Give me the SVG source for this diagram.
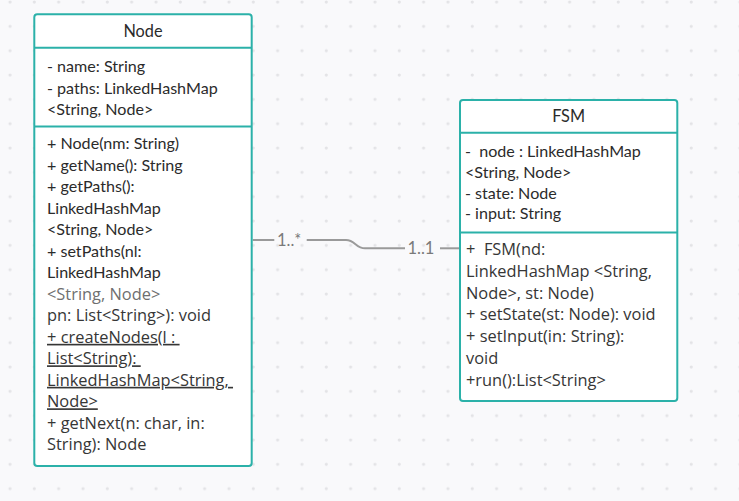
<svg xmlns="http://www.w3.org/2000/svg" width="739" height="501" viewBox="0 0 739 501">
<defs>
<pattern id="grid" patternUnits="userSpaceOnUse" x="0" y="0" width="24.33" height="24.33">
<circle cx="10" cy="2" r="1.6" fill="#e3e3e6"/>
</pattern>
<style>
.box{fill:#ffffff;stroke:#2bb1a9;stroke-width:2}
.sep{stroke:#2bb1a9;stroke-width:2}
.hd{font-family:Lato,"Open Sans",sans-serif;font-size:16.3px;fill:#2b2b2b;text-anchor:middle}
.l{font-family:Lato,"Open Sans",sans-serif;font-size:16.1px;fill:#2b2b2b;white-space:pre}
.o{font-family:"Open Sans","Noto Sans",sans-serif;font-size:16.4px;fill:#363636;white-space:pre}
.g{fill:#6f6f6f}
.u{text-decoration:underline}
.conn{fill:none;stroke:#9a9a9a;stroke-width:2}
.lbl{font-family:Lato,"Open Sans",sans-serif;font-size:16.5px;fill:#7a7a7a}
</style>
</defs>
<rect width="739" height="501" fill="#f9f9fb"/>
<rect width="739" height="501" fill="url(#grid)"/>

<g id="connectors">
<path class="conn" d="M252.7 240 H274.3"/>
<path class="conn" d="M306.7 240 H346 C355 240 356 248.3 365 248.3 H405"/>
<path class="conn" d="M440 248.3 H459"/>
<text class="lbl" x="277" y="245.5">1..*</text>
<text class="lbl" x="407.5" y="254">1..1</text>
</g>

<g id="node-Node">
<rect class="box" x="34.3" y="14.3" width="217.4" height="451.7" rx="3"/>
<line class="sep" x1="34.3" y1="47.7" x2="251.7" y2="47.7"/>
<line class="sep" x1="34.3" y1="126.5" x2="251.7" y2="126.5"/>
<text class="hd" x="143" y="36.7">Node</text>
<text class="l" x="47" y="72">- name: String</text>
<text class="l" x="47" y="93.5">- paths: LinkedHashMap</text>
<text class="l" x="47" y="115">&lt;String, Node&gt;</text>
<text class="l" x="47" y="149.3">+ Node(nm: String)</text>
<text class="l" x="47" y="170.8">+ getName(): String</text>
<text class="l" x="47" y="192.3">+ getPaths():</text>
<text class="l" x="47" y="213.8">LinkedHashMap</text>
<text class="l" x="47" y="235.3">&lt;String, Node&gt;</text>
<text class="l" x="47" y="256.8">+ setPaths(nl:</text>
<text class="l" x="47" y="278.3">LinkedHashMap</text>
<text class="o g" x="47" y="299.8">&lt;String, Node&gt;</text>
<text class="o" x="47" y="321.3">pn: List&lt;String&gt;): void</text>
<text class="o u" x="47" y="342.8">+ createNodes(l : </text>
<text class="o u" x="47" y="364.3">List&lt;String): </text>
<text class="o u" x="47" y="385.8">LinkedHashMap&lt;String, </text>
<text class="o u" x="47" y="407.3">Node&gt;</text>
<text class="o" x="47" y="428.8">+ getNext(n: char, in:</text>
<text class="o" x="47" y="450.3">String): Node</text>
</g>

<g id="node-FSM">
<rect class="box" x="460" y="100" width="217.3" height="301" rx="3"/>
<line class="sep" x1="460" y1="132.7" x2="677.3" y2="132.7"/>
<line class="sep" x1="460" y1="232.5" x2="677.3" y2="232.5"/>
<text class="hd" x="568.6" y="121.7">FSM</text>
<text class="l" x="465" y="156.7">-  node : LinkedHashMap</text>
<text class="l" x="465" y="177.7">&lt;String, Node&gt;</text>
<text class="l" x="465" y="198.5">- state: Node</text>
<text class="l" x="465" y="219.3">- input: String</text>
<text class="o" x="466" y="255">+  FSM(nd:</text>
<text class="o" x="466" y="276.8">LinkedHashMap &lt;String,</text>
<text class="o" x="466" y="298.6">Node&gt;, st: Node)</text>
<text class="o" x="466" y="320.4">+ setState(st: Node): void</text>
<text class="o" x="466" y="342.2">+ setInput(in: String):</text>
<text class="o" x="466" y="364">void</text>
<text class="o" x="466" y="385.8">+run():List&lt;String&gt;</text>
</g>
</svg>
